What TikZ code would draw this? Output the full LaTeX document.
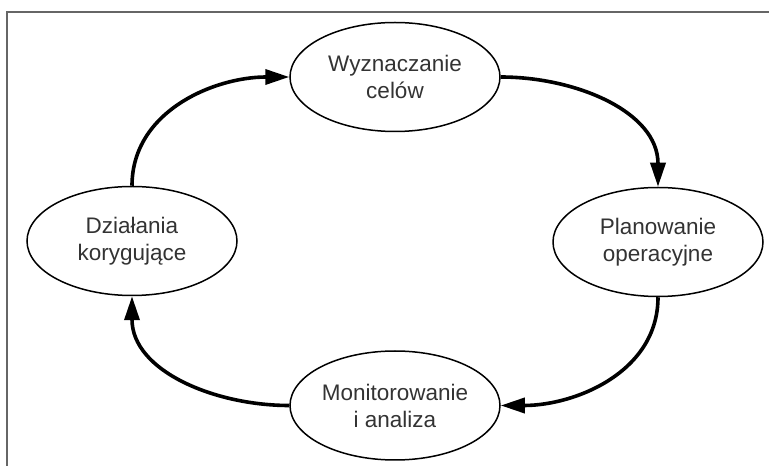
\documentclass[tikz,border=0pt]{standalone}
\usepackage{fontspec}
\setmainfont{Liberation Sans}
\usetikzlibrary{shapes.geometric,arrows.meta}
\tikzset{
  stage/.style={ellipse,draw=black,line width=1.5pt,minimum width=210pt,minimum height=109pt,inner sep=0pt,align=center,text=black!80,font=\fontsize{22.5}{27}\selectfont},
  cyc/.style={line width=3.6pt,-{Triangle[length=24pt,width=15pt]},shorten >=0pt},
  frameline/.style={draw=black!60,line width=1.6pt}
}
\begin{document}
\begin{tikzpicture}[x=1pt,y=1pt]
\useasboundingbox (0,0) rectangle (769,466);
\coordinate (fa) at (7,0);
\coordinate (fb) at (7,454);
\coordinate (fc) at (769,454);
\draw[frameline] (fa) -- (fb) -- (fc);
\node[stage] (top) at (395,389) {Wyznaczanie\\celów};
\node[stage] (right) at (658,224) {Planowanie\\operacyjne};
\node[stage] (bottom) at (395,60.5) {Monitorowanie\\i analiza};
\node[stage] (left) at (132,225) {Działania\\korygujące};
\draw[cyc] (top.east) to[out=0,in=90] (right.north);
\draw[cyc] (right.south) to[out=-90,in=0] (bottom.east);
\draw[cyc] (bottom.west) to[out=180,in=-90] (left.south);
\draw[cyc] (left.north) to[out=90,in=180] (top.west);
\end{tikzpicture}
\end{document}
